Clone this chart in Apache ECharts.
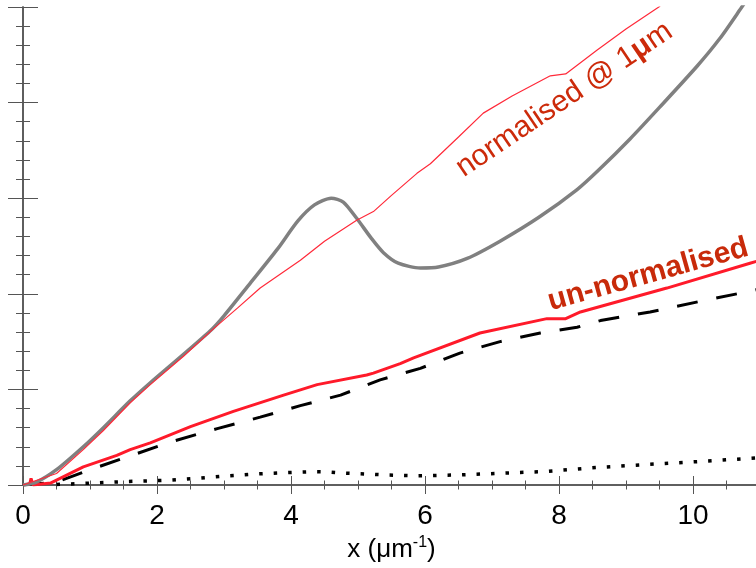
<!DOCTYPE html>
<html><head><meta charset="utf-8">
<script src="https://cdn.jsdelivr.net/npm/echarts@6/dist/echarts.min.js"></script>
<style>html,body{margin:0;padding:0;background:#fff}#c{width:756px;height:568px}</style>
</head><body><div id="c"></div>
<script>
// x (1/micron) and values
const grayCurve = [[0,0],[0.2,0.03],[0.5,0.16],[0.9,0.40],[1.2,0.6],[1.6,0.88],[1.9,1.07],[2.4,1.37],[2.82,1.63],[3.0,1.77],[3.39,2.11],[3.8,2.47],[4.1,2.76],[4.35,2.93],[4.6,3.0],[4.78,2.96],[4.98,2.79],[5.2,2.58],[5.38,2.43],[5.6,2.32],[5.93,2.27],[6.2,2.28],[6.63,2.37],[7.12,2.55],[7.7,2.8],[8.27,3.09],[8.6,3.3],[9.06,3.62],[9.5,3.95],[10.06,4.38],[10.4,4.67],[10.7,4.97],[11,5.28]];
const normalisedCurve = [[0,0],[0.5,0.12],[0.9,0.37],[1.2,0.57],[1.6,0.86],[1.9,1.05],[2.4,1.35],[2.82,1.62],[3.2,1.85],[3.54,2.06],[4.14,2.35],[4.5,2.55],[4.98,2.77],[5.23,2.86],[5.5,3.03],[5.88,3.26],[6.08,3.36],[6.5,3.64],[6.87,3.89],[7.3,4.07],[7.87,4.28],[8.1,4.30],[8.57,4.55],[9.0,4.77],[9.49,5.0],[10,5.35]];
const unnormalisedCurve = [[0,0],[0.1,0.01],[0.12,0.07],[0.15,0.0],[0.41,0.02],[0.9,0.19],[1.4,0.31],[1.6,0.37],[1.9,0.44],[2.5,0.61],[3.14,0.77],[3.89,0.94],[4.39,1.05],[5.13,1.15],[5.23,1.17],[5.63,1.27],[5.83,1.33],[6.82,1.59],[7.82,1.74],[8.1,1.74],[8.32,1.81],[9.61,2.06],[10.85,2.32],[11,2.35]];
const dashedCurve = [[0,0],[0.5,0.03],[1.0,0.16],[1.5,0.28],[2.2,0.45],[2.9,0.59],[3.54,0.71],[4.14,0.83],[4.74,0.94],[5.33,1.10],[5.93,1.22],[6.52,1.38],[7.12,1.50],[7.72,1.59],[8.27,1.65],[8.62,1.72],[9.36,1.81],[10.1,1.92],[10.8,2.02],[11,2.05]];
const dottedCurve = [[0.5,0.005],[1,0.02],[1.5,0.035],[2.15,0.05],[2.6,0.07],[3.02,0.094],[3.47,0.115],[3.89,0.129],[4.34,0.139],[4.56,0.137],[4.79,0.124],[5.23,0.112],[5.45,0.104],[5.9,0.097],[6.5,0.105],[7.2,0.125],[7.76,0.14],[8.5,0.18],[9.2,0.21],[10.06,0.244],[11,0.285]];
const xTickLabels = ['0','2','4','6','8','10'];
const labelNormalised = {text:'normalised @ 1', bold:'μ', tail:'m', at:[8.08,4.03], angle:34};
const labelUnnormalised = {text:'un-normalised', at:[9.33,2.2], angle:15.5};

const chart = echarts.init(document.getElementById('c'), null, {renderer:'canvas'});
const F = 'Liberation Sans, Helvetica, Arial, sans-serif';
const axisCol = '#555';
const xCommon = {type:'value', min:0, max:11, interval:2,
  axisLine:{show:true, lineStyle:{color:axisCol, width:1.5}},
  axisTick:{show:true, inside:true, length:9, lineStyle:{color:axisCol, width:1}},
  minorTick:{show:true, splitNumber:4, length:4.5, lineStyle:{color:axisCol, width:1}},
  splitLine:{show:false}};
const yCommon = {type:'value', min:0, max:5, interval:1,
  axisLine:{show:true, lineStyle:{color:axisCol, width:1.5}},
  axisTick:{show:true, inside:true, length:15, lineStyle:{color:axisCol, width:1}},
  minorTick:{show:true, splitNumber:5, length:7, lineStyle:{color:axisCol, width:1}},
  splitLine:{show:false}, axisLabel:{show:false}};

chart.setOption({
  animation:false,
  grid:{left:23, top:7, width:737, height:478, containLabel:false, outerBoundsMode:'none'},
  xAxis:[
    Object.assign({}, xCommon, {position:'bottom',
      axisLabel:{show:true, margin:17, fontSize:28, color:'#000', fontFamily:F, showMaxLabel:false,
        formatter:v => { const i = xTickLabels.indexOf(String(v)); return i>=0 ? xTickLabels[i] : ''; }},
      name:'{a|x (μm}{s|-1}{a|)}', nameLocation:'middle', nameGap:50,
      nameTextStyle:{rich:{a:{fontSize:26, fontFamily:F, color:'#000'}, s:{fontSize:16, fontFamily:F, color:'#000', padding:[0,0,14,0]}}}}),
    Object.assign({}, xCommon, {position:'top', axisLabel:{show:false}})
  ],
  yAxis:[
    Object.assign({}, yCommon, {position:'left'}),
    Object.assign({}, yCommon, {position:'right'})
  ],
  series:[
    {type:'line', data:dottedCurve, showSymbol:false, lineStyle:{color:'#000', width:3.5, type:[3.5,11], cap:'butt'}, z:2},
    {type:'line', data:dashedCurve, showSymbol:false, lineStyle:{color:'#000', width:3, type:[21,19], cap:'butt'}, z:3},
    {type:'line', data:unnormalisedCurve, showSymbol:false, lineStyle:{color:'#ff1a2a', width:3}, z:4},
    {type:'line', data:grayCurve, showSymbol:false, smooth:0.25, lineStyle:{color:'#808080', width:3.5}, z:5},
    {type:'line', data:normalisedCurve, showSymbol:false, lineStyle:{color:'#ff2a3a', width:1.2}, z:6}
  ]
});

const p1 = chart.convertToPixel({gridIndex:0}, labelNormalised.at);
const p2 = chart.convertToPixel({gridIndex:0}, labelUnnormalised.at);
chart.setOption({graphic:[
  {type:'text', x:p1[0], y:p1[1], rotation:labelNormalised.angle*Math.PI/180,
    style:{text:'{a|'+labelNormalised.text+'}{b|'+labelNormalised.bold+'}{a|'+labelNormalised.tail+'}', align:'center', verticalAlign:'middle',
      rich:{a:{fontSize:30, fontFamily:F, fill:'#cc2a0a', color:'#cc2a0a'}, b:{fontSize:30, fontWeight:'bold', fontFamily:F, fill:'#cc2a0a', color:'#cc2a0a'}}}, z:10},
  {type:'text', x:p2[0], y:p2[1], rotation:labelUnnormalised.angle*Math.PI/180,
    style:{text:labelUnnormalised.text, align:'center', verticalAlign:'middle', fontSize:30, fontWeight:'bold', fontFamily:F, fill:'#c82a0a'}, z:10}
]});
</script></body></html>
